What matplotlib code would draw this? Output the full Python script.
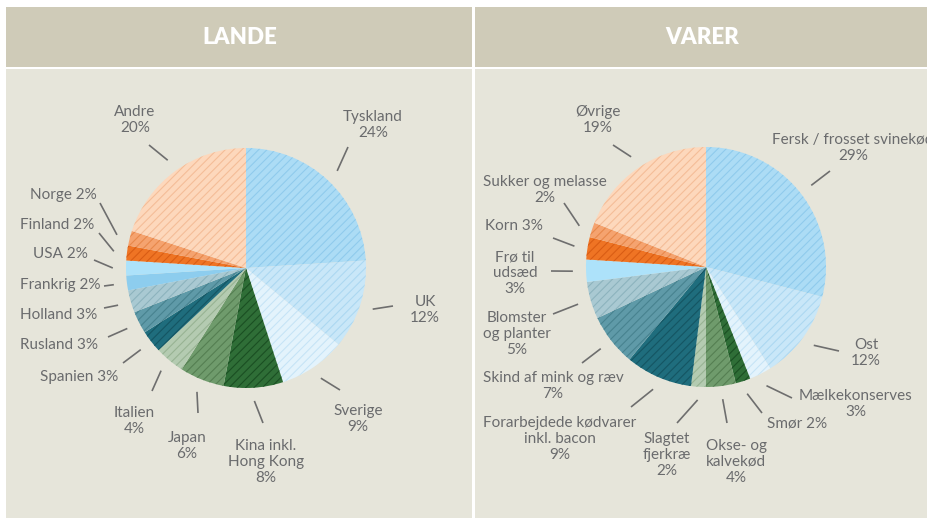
import numpy as np
import matplotlib
matplotlib.use("Agg")
import matplotlib.pyplot as plt
from matplotlib.patches import Rectangle

plt.rcParams['font.family'] = ['Lato', 'DejaVu Sans']
plt.rcParams['hatch.linewidth'] = 0.8

# eksport fordelt på lande
lande_navne = ["Tyskland\n24%", "UK\n12%", "Sverige\n9%", "Kina inkl.\nHong Kong\n8%",
               "Japan\n6%", "Italien\n4%", "Spanien 3%", "Rusland 3%", "Holland 3%",
               "Frankrig 2%", "USA 2%", "Finland 2%", "Norge 2%", "Andre\n20%"]
lande_pct = [24, 12, 9, 8, 6, 4, 3, 3, 3, 2, 2, 2, 2, 20]

# eksport fordelt på varer
varer_navne = ["Fersk / frosset svinekød\n29%", "Ost\n12%", "Mælkekonserves\n3%", "Smør 2%",
               "Okse- og\nkalvekød\n4%", "Slagtet\nfjerkræ\n2%",
               "Forarbejdede kødvarer\ninkl. bacon\n9%", "Skind af mink og ræv\n7%",
               "Blomster\nog planter\n5%", "Frø til\nudsæd\n3%", "Korn 3%",
               "Sukker og melasse\n2%", "Øvrige\n19%"]
varer_pct = [29, 12, 3, 2, 4, 2, 9, 7, 5, 3, 3, 2, 19]

# farver: (fyld, skravering, skraveret?)
lande_farver = [("#acdcf5", "#8fcbec", True), ("#c9e7f8", "#acd8f1", True),
                ("#e3f3fc", "#c6e4f6", True), ("#2f6e37", "#1b4f23", True),
                ("#6f9b6c", "#557e52", True), ("#b4cbb1", "#97b393", True),
                ("#1f6d7d", "#155563", True), ("#5f9aa8", "#47828f", True),
                ("#a9c9d2", "#8cb3be", True), ("#8dcdee", "#8dcdee", False),
                ("#ade2fa", "#ade2fa", False), ("#ef7424", "#d95d14", True),
                ("#f5a36f", "#e8884b", True), ("#fdd8bc", "#f4bd98", True)]
varer_farver = [("#acdcf5", "#8fcbec", True), ("#c9e7f8", "#acd8f1", True),
                ("#e3f3fc", "#c6e4f6", True), ("#2f6e37", "#1b4f23", True),
                ("#6f9b6c", "#557e52", True), ("#b4cbb1", "#97b393", True),
                ("#1f6d7d", "#155563", True), ("#5f9aa8", "#47828f", True),
                ("#a9c9d2", "#8cb3be", True), ("#ade2fa", "#ade2fa", False),
                ("#ef7424", "#d95d14", True), ("#f5a36f", "#e8884b", True),
                ("#fdd8bc", "#f4bd98", True)]

# placering af tekst og streger (pixel)
lande_tekst = [(373, 125), (425, 310), (358, 419), (266, 462), (187, 446), (134, 421),
               (79, 377), (59, 345), (59, 315), (60, 285), (60, 254), (57, 225),
               (63, 195), (135, 120)]
lande_streg = [(348, 147), (393, 306), (340, 390), (263, 423), (198, 413), (152, 391),
               (123, 363), (108, 337), (104, 308), (104, 286), (94, 260), (99, 233),
               (100, 203), (149, 145)]
varer_tekst = [(853, 148), (866, 353), (856, 404), (797, 424), (736, 462), (667, 455),
               (560, 439), (553, 386), (517, 334), (515, 273), (514, 226), (545, 190),
               (598, 120)]
varer_streg = [(830, 171), (839, 351), (792, 398), (762, 413), (727, 423), (677, 423),
               (631, 407), (582, 363), (553, 314), (551, 271), (553, 238), (564, 203),
               (613, 145)]

W, H = 928, 518
R = 120
TEKST = "#6a6b6d"
STREG = "#6e6e6e"

fig = plt.figure(figsize=(W / 100, H / 100), dpi=100)
fig.patch.set_facecolor("white")

bg = fig.add_axes([0, 0, 1, 1])
bg.set_xlim(0, W)
bg.set_ylim(H, 0)
bg.axis("off")
for x0, x1, titel in [(6, 472, "LANDE"), (475, W, "VARER")]:
    bg.add_patch(Rectangle((x0, 7), x1 - x0, 60, facecolor="#cfcbb8", lw=0))
    bg.add_patch(Rectangle((x0, 69), x1 - x0, H - 69, facecolor="#e6e5da", lw=0))
    bg.text((x0 + x1) / 2 + 1, 38, titel, color="white", fontsize=16, fontweight="heavy",
            ha="center", va="center")


def tegn_lagkage(cx, cy, pct, navne, farver, tekst, streg):
    ax = fig.add_axes([(cx - 2 * R) / W, (H - cy - 2 * R) / H, 4 * R / W, 4 * R / H])
    wedges, _ = ax.pie(pct, colors=[f[0] for f in farver], startangle=90,
                       counterclock=False, radius=1,
                       hatch=["////" if f[2] else None for f in farver],
                       wedgeprops=dict(linewidth=0))
    ax.set_xlim(-2, 2)
    ax.set_ylim(-2, 2)
    ax.axis("off")
    for w, f in zip(wedges, farver):
        w.set_edgecolor(f[1])
        w.set_linewidth(0)
    for w, navn, (tx, ty), (sx, sy) in zip(wedges, navne, tekst, streg):
        vinkel = np.deg2rad((w.theta1 + w.theta2) / 2)
        x_ind, y_ind = 1.11 * np.cos(vinkel), 1.11 * np.sin(vinkel)
        ax.plot([x_ind, (sx - cx) / R], [y_ind, (cy - sy) / R], color=STREG, lw=1.2,
                solid_capstyle="butt", clip_on=False)
        ax.text((tx - cx) / R, (cy - ty) / R, navn, color=TEKST, fontsize=11,
                ha="center", va="center", multialignment="center", linespacing=1.15,
                clip_on=False)


tegn_lagkage(246, 268, lande_pct, lande_navne, lande_farver, lande_tekst, lande_streg)
tegn_lagkage(706, 267, varer_pct, varer_navne, varer_farver, varer_tekst, varer_streg)

fig.savefig("out.png", dpi=100, facecolor=fig.get_facecolor())
